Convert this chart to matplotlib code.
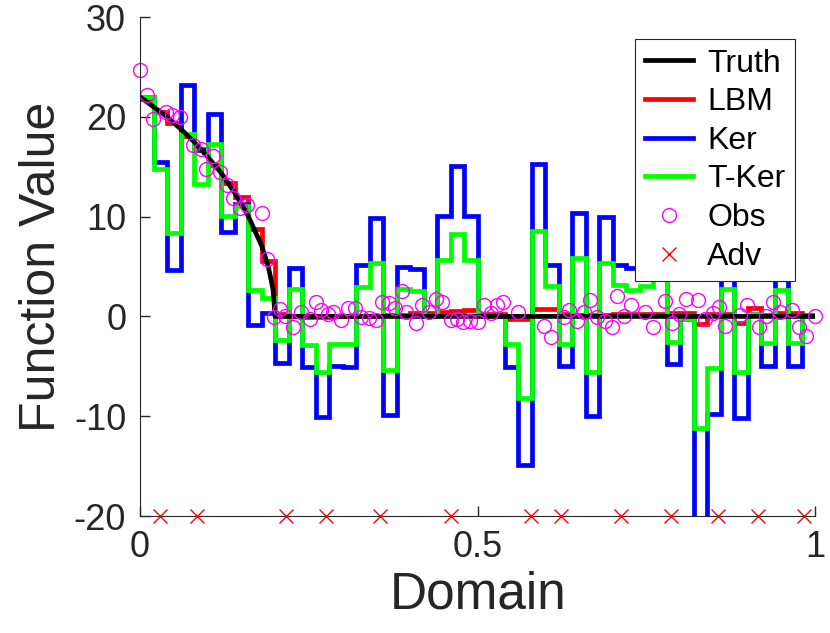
import numpy as np
import matplotlib
matplotlib.use("Agg")
import matplotlib.pyplot as plt

plt.rcParams['font.family'] = ['Liberation Sans', 'DejaVu Sans']
plt.rcParams['axes.unicode_minus'] = False

# truth curve
truth_x = [0.0, 0.02, 0.04, 0.06, 0.08, 0.10, 0.12, 0.14, 0.16, 0.18, 0.19, 0.197, 0.2, 1.0]
truth_y = [22.0, 21.0, 20.0, 18.8, 17.5, 16.0, 14.4, 12.4, 10.1, 7.1, 5.0, 2.7, 0.0, 0.0]

# piecewise constant estimates, 50 bins on [0, 1]
n_bins = 50
lbm = [21.8, 20.5, 19.4, 18.1, 16.8, 15.2, 13.4, 12.0, 8.8, 5.6,
       0.2, 0.0, -0.1, -0.1, 0.0, 0.0, 0.0, 0.0, 0.1, 0.1,
       0.3, 0.3, 0.4, 0.5, 0.6, 0.2, 0.2, -0.3, -0.3, 0.7,
       0.7, 0.2, 0.1, 0.1, 0.1, 0.2, 0.2, 0.2, 0.2, 0.3,
       0.3, -0.8, 0.2, 0.2, -0.7, 0.8, 0.1, 0.3, 0.3, 0.1]
ker = [22.0, 15.5, 4.7, 23.2, 16.7, 20.3, 8.5, 11.3, -0.9, 0.3,
       -4.7, 4.9, -5.1, -10.1, -5.0, -5.1, 5.2, 9.9, -9.9, 5.0,
       4.8, 0.0, 10.1, 15.1, 10.1, 0.0, 0.0, -5.1, -14.9, 15.3,
       5.2, -5.0, 10.4, -10.0, 10.0, 5.2, 4.9, 5.2, 10.0, -4.8,
       -0.3, -20.5, -9.8, 4.9, -10.2, 0.2, -5.0, 4.9, -5.0, 0.0]
tker = [22.0, 14.8, 8.4, 18.3, 13.3, 17.3, 10.1, 11.1, 2.6, 1.8,
        -2.4, 2.7, -2.9, -5.6, -2.8, -2.8, 2.9, 5.4, -5.4, 2.75,
        2.5, 0.0, 5.7, 8.3, 5.7, 0.0, 0.0, -2.8, -8.2, 8.6,
        3.0, -2.8, 5.9, -5.6, 5.4, 3.1, 2.6, 3.05, 5.5, -2.6,
        -0.3, -11.2, -5.2, 2.7, -5.6, 0.2, -2.7, 2.6, -2.7, 0.0]

# observations
obs_x = [0.0, 0.011, 0.019, 0.038, 0.048, 0.059, 0.079, 0.090, 0.108, 0.098,
         0.118, 0.129, 0.138, 0.148, 0.158, 0.180, 0.188, 0.199, 0.207,
         0.214, 0.227, 0.239, 0.251, 0.261, 0.268, 0.278, 0.286, 0.298, 0.308,
         0.319, 0.327, 0.339, 0.349, 0.359, 0.368, 0.378, 0.388, 0.394, 0.408,
         0.418, 0.428, 0.438, 0.447, 0.460, 0.470,
         0.479, 0.489, 0.500, 0.510, 0.520, 0.529, 0.538, 0.559, 0.598, 0.608,
         0.628, 0.635, 0.647, 0.657, 0.667, 0.677, 0.688, 0.699, 0.707, 0.717,
         0.727,
         0.748, 0.760, 0.778, 0.788, 0.798, 0.808, 0.827, 0.837, 0.848, 0.858,
         0.866, 0.888, 0.899, 0.917, 0.927, 0.937, 0.947, 0.966, 0.976, 0.986,
         0.999]
obs_y = [24.7, 22.2, 19.8, 20.5, 20.2, 20.0, 17.2, 16.8, 16.1, 14.8,
         14.5, 13.2, 11.9, 10.9, 11.2, 10.4, 5.8, -0.1, 0.7,
         0.07, -1.1, 0.46, -0.27, 1.4, 0.66, 0.23, 0.46, -0.34, 0.8,
         0.8, -0.1, -0.2, -0.34, 1.47, 1.34, 0.8, 2.57, 0.4, -0.67,
         1.13, 0.4, 1.74, 1.4, -0.34, -0.27,
         -0.54, -0.44, -0.54, 1.13, 0.33, 1.13, 1.4, 0.4, -1.0, -2.1,
         -0.1, 0.66, -0.44, 0.4, 1.67, -0.1, -0.44, -1.1, 2.07, 0.07,
         1.13,
         0.4, -1.1, 1.57, -0.67, 0.23, 1.74, 1.64, -0.27, 0.33, 0.9,
         -0.94, 0.13, 1.13, -1.1, 0.07, 1.47, 0.4, 0.66, -1.1, -2.0,
         0.07]

# adversarial locations
adv_x = [0.030, 0.085, 0.216, 0.276, 0.355, 0.461, 0.579, 0.623, 0.712,
         0.786, 0.856, 0.915, 0.983]
adv_y = [-20] * len(adv_x)

edges = np.linspace(0, 1, n_bins + 1)
dark = (0.15, 0.15, 0.15)

fig = plt.figure(figsize=(8.3, 6.33), dpi=100)
ax = fig.add_axes([0.1687, 0.1848, 0.8136, 0.7883])

lw = 3.4
ax.plot(truth_x, truth_y, color='k', lw=lw, label='Truth')
ax.stairs(lbm, edges, baseline=None, color='r', lw=lw, label='LBM')
ax.stairs(ker, edges, baseline=None, color='b', lw=lw, label='Ker')
ax.stairs(tker, edges, baseline=None, color=(0, 1, 0), lw=lw, label='T-Ker')
ax.plot(obs_x, obs_y, 'o', ms=10, mfc='none', mec='magenta', mew=1.0,
        label='Obs', clip_on=False)
ax.plot(adv_x, adv_y, 'x', ms=10, color='r', mew=1.0, label='Adv',
        clip_on=False, zorder=5)

ax.set_xlim(0, 1)
ax.set_ylim(-20, 30)
ax.set_xticks([0, 0.5, 1])
ax.set_xticklabels(['0', '0.5', '1'])
ax.set_yticks([-20, -10, 0, 10, 20, 30])
ax.tick_params(direction='in', length=7, width=1, colors=dark,
               labelsize=26, pad=10)
for s in ['top', 'right']:
    ax.spines[s].set_visible(False)
for s in ['left', 'bottom']:
    ax.spines[s].set_color(dark)
ax.set_xlabel('Domain', fontsize=37, color=dark, labelpad=4)
ax.set_ylabel('Function Value', fontsize=36, color=dark, labelpad=6)

leg = ax.legend(loc='upper right', bbox_to_anchor=(0.970, 0.956), borderaxespad=0,
                fontsize=23, handlelength=1.5, handletextpad=0.45,
                labelspacing=0.27, fancybox=False, framealpha=1,
                edgecolor=dark, borderpad=0.3)
leg.get_frame().set_linewidth(0.8)

fig.savefig('out.png', dpi=100)
